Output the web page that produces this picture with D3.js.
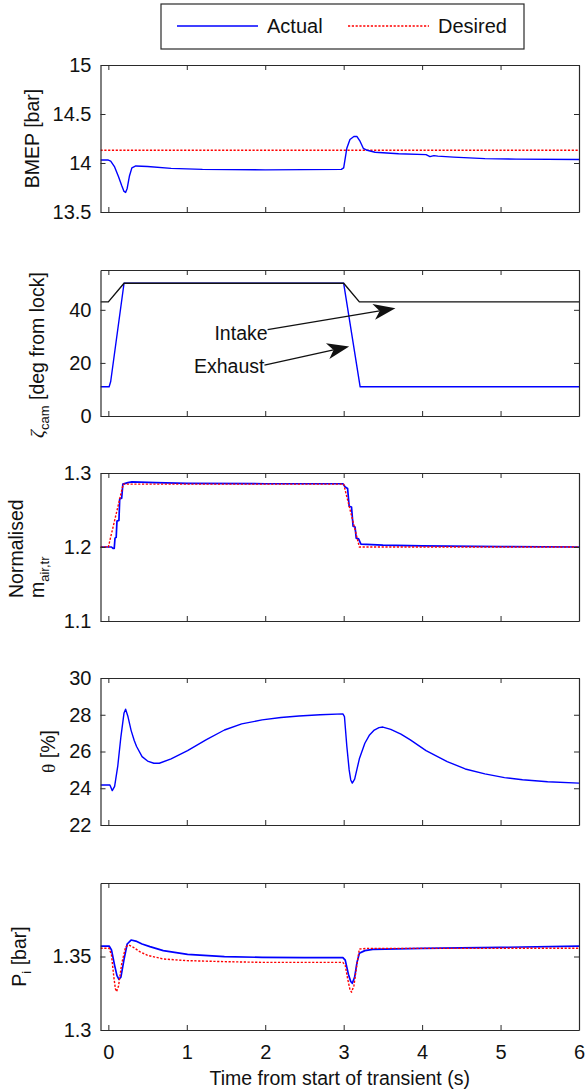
<!DOCTYPE html>
<html><head><meta charset="utf-8">
<script src="https://cdn.jsdelivr.net/npm/d3@7"></script>
<style>body{margin:0;background:#fff}svg{display:block}text{font-family:"Liberation Sans",Arial,sans-serif;fill:#111}</style>
</head><body>
<svg id="c" width="585" height="1090"></svg>
<script>
// ---------- DATA ----------
const xTicks = [0,1,2,3,4,5,6];
const xDomain = [-0.1, 6];

// Panel 1: BMEP [bar]
const bmepTicks = [13.5,14,14.5,15];
const bmepActual = [[-0.1,14.03],[0.0,14.03],[0.03,14.02],[0.08,13.96],[0.13,13.86],[0.17,13.77],[0.2,13.71],[0.22,13.70],[0.24,13.74],[0.27,13.87],[0.3,13.95],[0.35,13.97],[0.5,13.965],[0.8,13.945],[1.2,13.935],[2.0,13.93],[2.97,13.935],[3.0,13.95],[3.04,14.15],[3.08,14.24],[3.13,14.27],[3.17,14.27],[3.21,14.22],[3.25,14.15],[3.3,14.13],[3.4,14.11],[3.7,14.095],[4.05,14.085],[4.1,14.065],[4.15,14.075],[4.2,14.07],[4.4,14.06],[4.8,14.045],[5.2,14.04],[6.0,14.035]];
const bmepDesired = [[-0.1,14.13],[6.0,14.13]];

// Panel 2: cam phasing [deg from lock]
const camTicks = [0,20,40];
const intakeCam = [[-0.1,43],[0.0,43],[0.2,50],[3.0,50],[3.2,43],[6.0,43]];
const exhaustCam = [[-0.1,11],[0.01,11],[0.03,13],[0.2,50],[3.0,50],[3.21,11],[6.0,11]];
const camNotes = [
  {label:"Intake", tail:[2.03,32.5], tip:[3.66,40.6], text:[2.03,28.7]},
  {label:"Exhaust", tail:[1.99,19.2], tip:[3.07,26.2], text:[1.99,16.2]}
];

// Panel 3: normalised trapped air mass
const airTicks = [1.1,1.2,1.3];
const airActual = [[-0.1,1.2],[0.04,1.2],[0.06,1.198],[0.075,1.198],[0.085,1.212],[0.1,1.213],[0.11,1.235],[0.135,1.236],[0.145,1.265],[0.17,1.266],[0.185,1.285],[0.25,1.287],[0.3,1.288],[0.6,1.287],[1.0,1.286],[2.0,1.2855],[2.99,1.2855],[3.02,1.281],[3.05,1.279],[3.07,1.255],[3.1,1.254],[3.12,1.228],[3.145,1.227],[3.16,1.212],[3.19,1.211],[3.22,1.204],[3.5,1.2025],[4.0,1.2015],[5.0,1.2005],[6.0,1.2]];
const airDesired = [[-0.1,1.2],[0.0,1.2],[0.19,1.285],[3.0,1.285],[3.2,1.2],[6.0,1.2]];

// Panel 4: theta [%]
const thetaTicks = [22,24,26,28,30];
const thetaActual = [[-0.1,24.18],[0.02,24.18],[0.05,23.87],[0.08,24.1],[0.12,25.2],[0.16,26.8],[0.2,28.1],[0.22,28.3],[0.25,27.9],[0.29,27.15],[0.33,26.6],[0.36,26.27],[0.43,25.72],[0.5,25.48],[0.58,25.36],[0.65,25.36],[0.8,25.6],[1.01,26.05],[1.25,26.65],[1.48,27.17],[1.7,27.5],[1.96,27.72],[2.2,27.85],[2.43,27.93],[2.7,28.0],[2.99,28.05],[3.01,27.9],[3.04,26.3],[3.07,25.0],[3.09,24.45],[3.11,24.28],[3.14,24.5],[3.2,25.6],[3.27,26.45],[3.33,26.9],[3.39,27.17],[3.45,27.3],[3.5,27.33],[3.6,27.2],[3.73,26.95],[3.85,26.63],[4.05,26.05],[4.32,25.45],[4.55,25.05],[4.8,24.78],[5.05,24.58],[5.28,24.46],[5.6,24.35],[6.0,24.28]];

// Panel 5: Pi [bar]
const piTicks = [1.3,1.35];
const piActual = [[-0.1,1.3571],[0.01,1.3571],[0.04,1.3545],[0.08,1.344],[0.11,1.337],[0.135,1.3345],[0.16,1.336],[0.2,1.348],[0.24,1.3585],[0.29,1.3612],[0.35,1.3605],[0.43,1.3585],[0.53,1.3567],[0.7,1.354],[1.01,1.3515],[1.48,1.3499],[1.96,1.3494],[2.5,1.3493],[2.99,1.3492],[3.02,1.3475],[3.06,1.338],[3.09,1.333],[3.11,1.3318],[3.14,1.336],[3.17,1.346],[3.2,1.3522],[3.27,1.354],[3.37,1.3549],[4.0,1.3555],[5.0,1.3562],[6.0,1.3571]];
const piDesired = [[-0.1,1.3556],[0.01,1.3556],[0.04,1.351],[0.07,1.336],[0.09,1.328],[0.105,1.3261],[0.13,1.33],[0.17,1.345],[0.22,1.3565],[0.26,1.3578],[0.32,1.3562],[0.4,1.3533],[0.5,1.3508],[0.7,1.3483],[1.0,1.3472],[1.48,1.3465],[1.96,1.346],[2.99,1.346],[3.02,1.344],[3.05,1.335],[3.08,1.3275],[3.1,1.3257],[3.13,1.33],[3.17,1.345],[3.2,1.3551],[3.3,1.3555],[6.0,1.3556]];

const legendLabels = ["Actual","Desired"];

// ---------- DRAW ----------
const svg = d3.select("#c");
const X0 = 100.5, X1 = 579;
const x = d3.scaleLinear().domain(xDomain).range([X0, X1]);
const BLUE = "#0000ff", RED = "#ff0000", AX = "#2a2a2a";
const FS = 19.5;

const panels = [
  {top:65, bot:212, dom:[13.5,15], ticks:bmepTicks, fmt:d3.format("")},
  {top:270, bot:416, dom:[0,55], ticks:camTicks, fmt:d3.format("")},
  {top:473, bot:621, dom:[1.1,1.3], ticks:airTicks, fmt:d3.format(".1f")},
  {top:678, bot:825, dom:[22,30], ticks:thetaTicks, fmt:d3.format("")},
  {top:883, bot:1030, dom:[1.3,1.4], ticks:piTicks, fmt:d3.format("")}
];

panels.forEach((p,i)=>{
  p.y = d3.scaleLinear().domain(p.dom).range([p.bot,p.top]);
  const g = svg.append("g");
  p.g = g;
  const clipId = "clip"+i;
  svg.append("clipPath").attr("id",clipId).append("rect")
    .attr("x",X0).attr("y",p.top).attr("width",X1-X0).attr("height",p.bot-p.top);
  p.plot = g.append("g").attr("clip-path",`url(#${clipId})`);
  const left = d3.axisLeft(p.y).tickValues(p.ticks).tickFormat(p.fmt).tickSizeInner(-5).tickSizeOuter(0).tickPadding(9);
  const right = d3.axisRight(p.y).tickValues(p.ticks).tickFormat("").tickSizeInner(-5).tickSizeOuter(0);
  const bottom = d3.axisBottom(x).tickValues(xTicks).tickFormat(i===4?d3.format(""):"").tickSizeInner(-5).tickSizeOuter(0).tickPadding(15);
  const top = d3.axisTop(x).tickValues(xTicks).tickFormat("").tickSizeInner(-5).tickSizeOuter(0);
  const axes = [
    g.append("g").attr("transform",`translate(${X0},0)`).call(left),
    g.append("g").attr("transform",`translate(${X1},0)`).call(right),
    g.append("g").attr("transform",`translate(0,${p.bot})`).call(bottom),
    g.append("g").attr("transform",`translate(0,${p.top})`).call(top)
  ];
  axes.forEach(a=>{
    a.selectAll("path.domain").attr("stroke",AX).attr("stroke-width",1.2);
    a.selectAll(".tick line").attr("stroke",AX).attr("stroke-width",1);
    a.selectAll(".tick text").style("font-family",'"Liberation Sans",Arial,sans-serif').style("font-size","20px").attr("fill","#111");
  });
  p.line = d3.line().x(d=>x(d[0])).y(d=>p.y(d[1]));
});

function drawLine(p, data, color, dash, w){
  p.plot.append("path").datum(data).attr("d",p.line)
    .attr("fill","none").attr("stroke",color).attr("stroke-width",w||1.4)
    .attr("stroke-dasharray",dash||null).attr("stroke-linejoin","round");
}

drawLine(panels[0], bmepDesired, RED, "2.2,1.6");
drawLine(panels[0], bmepActual, BLUE);
drawLine(panels[1], exhaustCam, BLUE);
drawLine(panels[1], intakeCam, "#111");
drawLine(panels[2], airActual, BLUE, null, 1.7);
drawLine(panels[2], airDesired, RED, "2.2,1.6");
drawLine(panels[3], thetaActual, BLUE);
drawLine(panels[4], piActual, BLUE, null, 1.7);
drawLine(panels[4], piDesired, RED, "2.2,1.6");

// Annotations in panel 2
const p2 = panels[1];
camNotes.forEach(n=>{
  const tx = x(n.tail[0]), ty = p2.y(n.tail[1]);
  const hx = x(n.tip[0]), hy = p2.y(n.tip[1]);
  const dx = hx-tx, dy = hy-ty, L = Math.hypot(dx,dy), ux = dx/L, uy = dy/L;
  const len = 22, hw = 8, notch = 6;
  const bx = hx-ux*len, by = hy-uy*len;
  svg.append("line").attr("x1",tx).attr("y1",ty).attr("x2",hx-ux*(len-notch)).attr("y2",hy-uy*(len-notch))
    .attr("stroke","#111").attr("stroke-width",1.3);
  const pts = [[hx,hy],[bx+uy*hw,by-ux*hw],[hx-ux*(len-notch),hy-uy*(len-notch)],[bx-uy*hw,by+ux*hw]];
  svg.append("path").attr("d","M"+pts.map(q=>q.join(",")).join("L")+"Z").attr("fill","#111");
  svg.append("text").attr("x",x(n.text[0])).attr("y",p2.y(n.text[1])).attr("text-anchor","end")
    .style("font-size",FS+"px").text(n.label);
});

// Y labels
function ylab(px, py, anchor){
  return svg.append("text").attr("transform",`translate(${px},${py}) rotate(-90)`).attr("text-anchor",anchor||"middle").style("font-size",FS+"px");
}
ylab(39, 138.5).text("BMEP [bar]");
{
  const t = ylab(44, 355);
  t.append("tspan").style("font-family",'"Liberation Serif",serif').style("font-style","italic").text("ζ");
  t.append("tspan").attr("dy",5).style("font-size","13px").text("cam");
  t.append("tspan").attr("dy",-5).text(" [deg from lock]");
}
ylab(23, 598, "start").text("Normalised");
{
  const t = ylab(44, 598, "start");
  t.append("tspan").text("m");
  t.append("tspan").attr("dy",5).style("font-size","13px").text("air,tr");
}
{
  const t = ylab(55, 751.5);
  t.append("tspan").style("font-family",'"Liberation Serif",serif').text("θ");
  t.append("tspan").text(" [%]");
}
{
  const t = ylab(26, 956.5);
  t.append("tspan").text("P");
  t.append("tspan").attr("dy",5).style("font-size","13px").text("i");
  t.append("tspan").attr("dy",-5).text(" [bar]");
}
svg.append("text").attr("x",(X0+X1)/2).attr("y",1085).attr("text-anchor","middle").style("font-size",FS+"px")
  .text("Time from start of transient (s)");

// Legend
const lg = svg.append("g");
lg.append("rect").attr("x",161).attr("y",4).attr("width",363).attr("height",45).attr("fill","#fff").attr("stroke",AX).attr("stroke-width",1.2);
const legendItems = [{c:BLUE,dash:null,x:177},{c:RED,dash:"2.2,1.6",x:348}];
legendItems.forEach((it,i)=>{
  lg.append("line").attr("x1",it.x).attr("x2",it.x+81).attr("y1",26).attr("y2",26).attr("stroke",it.c).attr("stroke-width",1.3).attr("stroke-dasharray",it.dash);
  lg.append("text").attr("x",it.x+90).attr("y",33).style("font-size","20px").text(legendLabels[i]);
});
</script>
</body></html>
